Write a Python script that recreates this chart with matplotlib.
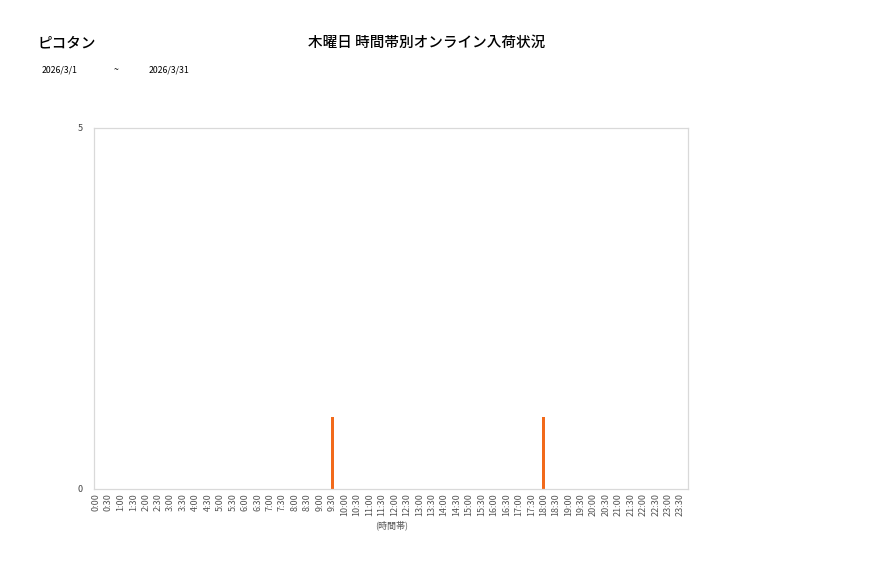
import matplotlib.pyplot as plt

plt.rcParams['font.family'] = ['Noto Sans CJK JP', 'DejaVu Sans']

# time slots 0:00 .. 23:30
time_labels = [f"{h}:{m:02d}" for h in range(24) for m in (0, 30)]
counts = [0] * 48
counts[time_labels.index("9:30")] = 1
counts[time_labels.index("18:00")] = 1

shop_name = "ピコタン"
chart_title = "木曜日 時間帯別オンライン入荷状況"
date_from = "2026/3/1"
date_to = "2026/3/31"

fig = plt.figure(figsize=(8.77, 5.78), dpi=100)
ax = fig.add_axes([0.107, 0.154, 0.678, 0.625])

x = list(range(len(time_labels)))
ax.bar(x, counts, width=0.22, color="#f26a1b")

ax.set_xlim(-0.17, 47.64)
ax.set_ylim(0, 5)
ax.set_yticks([0, 5])
ax.set_xticks(x)
ax.set_xticklabels(time_labels, rotation=90, fontsize=6.5, color="#555555")
ax.tick_params(axis="y", labelsize=6.5, colors="#444444", length=0, pad=8)
ax.tick_params(axis="x", length=0, pad=3)
for s in ax.spines.values():
    s.set_color("#d9d9d9")
    s.set_linewidth(0.9)

ax.set_xlabel("(時間帯)", fontsize=6.5, color="#555555", labelpad=3)

# headline texts; medium weight sits between the reference's regular and bold look
fig.text(0.487, 0.925, chart_title, ha="center", va="center", fontsize=10.5, fontweight="medium")
fig.text(0.043, 0.925, shop_name, ha="left", va="center", fontsize=10.5, fontweight="medium")
fig.text(0.047, 0.879, date_from, ha="left", va="center", fontsize=6.3)
fig.text(0.13, 0.879, "~", ha="left", va="center", fontsize=6.3)
fig.text(0.169, 0.879, date_to, ha="left", va="center", fontsize=6.3)

fig.savefig("out.png", dpi=100)
